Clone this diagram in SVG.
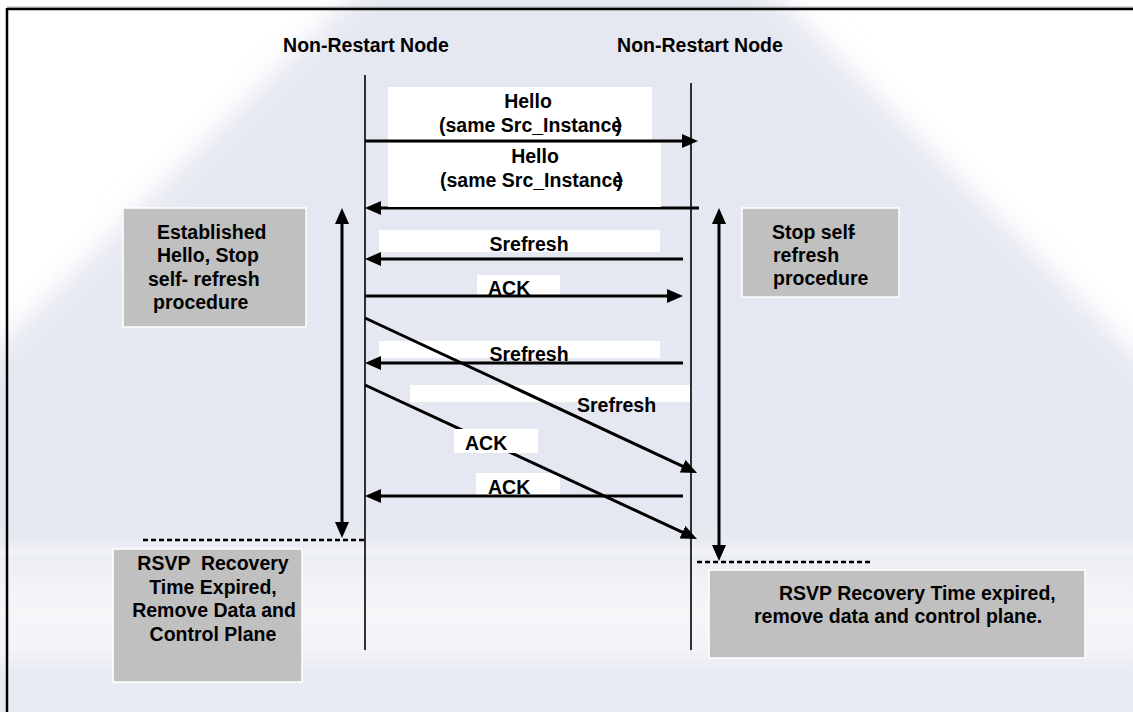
<svg xmlns="http://www.w3.org/2000/svg" width="1133" height="712" viewBox="0 0 1133 712">
<defs>
<style>
text{font-family:"Liberation Sans",Arial,sans-serif;font-weight:bold;font-size:19.5px;fill:#000}
.life{stroke:#000;stroke-width:1.6;fill:none}
.msg{stroke:#000;stroke-width:3;fill:none}
.dash{stroke:#000;stroke-width:2.5;stroke-dasharray:5 3;fill:none}
.lbl{fill:#fff}
.note{fill:#c0c0c0;stroke:#fff;stroke-width:1.5}
</style>
<marker id="ah" viewBox="0 0 16 14" refX="8" refY="7" markerWidth="16" markerHeight="14" markerUnits="userSpaceOnUse" orient="auto-start-reverse">
<path d="M0,0 L16,7 L0,14 z" fill="#000"/>
</marker>
<filter id="soft" x="-10%" y="-10%" width="120%" height="120%"><feGaussianBlur stdDeviation="14"/></filter>
<linearGradient id="low" x1="0" y1="0" x2="0" y2="1">
<stop offset="0" stop-color="#eceef5"/>
<stop offset="0.35" stop-color="#f6f6f9"/>
<stop offset="0.6" stop-color="#f3f4f8"/>
<stop offset="0.75" stop-color="#e9ebf3"/>
<stop offset="1" stop-color="#e8eaf2"/>
</linearGradient>
</defs>

<g id="background">
<rect x="0" y="0" width="1133" height="712" fill="#fff"/>
<polygon points="378,-30 752,-30 1180,400 1180,556 -40,556 -40,385" fill="#e6e8f1" filter="url(#soft)"/>
<rect x="0" y="555" width="1133" height="157" fill="url(#low)"/>
<line x1="7" y1="7.2" x2="1133" y2="7.2" stroke="#b8b8b8" stroke-width="1.2"/>
<line x1="7" y1="9" x2="1133" y2="9" stroke="#000" stroke-width="2.5"/>
<line x1="7" y1="8" x2="7" y2="712" stroke="#000" stroke-width="2.5"/>
</g>

<g id="node-left">
<text x="366" y="52" text-anchor="middle">Non-Restart Node</text>
<line class="life" x1="365" y1="75" x2="365" y2="650"/>
</g>
<g id="node-right">
<text x="700" y="52" text-anchor="middle">Non-Restart Node</text>
<line class="life" x1="691" y1="83" x2="691" y2="650"/>
</g>

<g id="labels-under">
<rect class="lbl" x="388" y="87" width="264" height="53"/>
<rect class="lbl" x="379" y="230" width="281" height="22"/>
<rect class="lbl" x="477" y="275" width="83" height="21"/>
<rect class="lbl" x="379" y="341" width="281" height="17"/>
<rect class="lbl" x="410" y="385" width="280" height="17"/>
<rect class="lbl" x="476" y="473" width="84" height="22"/>
</g>

<g id="connectors">
<line class="msg" x1="365" y1="141" x2="690" y2="141" marker-end="url(#ah)"/>
<line class="msg" x1="699" y1="208" x2="373" y2="208" marker-end="url(#ah)"/>
<line class="msg" x1="683" y1="259" x2="373" y2="259" marker-end="url(#ah)"/>
<line class="msg" x1="365" y1="296" x2="675" y2="296" marker-end="url(#ah)"/>
<line class="msg" x1="365" y1="318" x2="689.8" y2="469.6" marker-end="url(#ah)"/>
<line class="msg" x1="683" y1="363" x2="373" y2="363" marker-end="url(#ah)"/>
<line class="msg" x1="365" y1="385" x2="689.7" y2="535.6" marker-end="url(#ah)"/>
<line class="msg" x1="683" y1="496" x2="373" y2="496" marker-end="url(#ah)"/>
<line class="msg" x1="342" y1="216" x2="342" y2="530" marker-start="url(#ah)" marker-end="url(#ah)"/>
<line class="msg" x1="719" y1="216" x2="719" y2="553" marker-start="url(#ah)" marker-end="url(#ah)"/>
<line class="dash" x1="143" y1="540" x2="365" y2="540"/>
<line class="dash" x1="697" y1="562" x2="872" y2="562"/>
</g>

<g id="labels-over">
<rect class="lbl" x="388" y="143" width="273" height="64"/>
<rect class="lbl" x="454" y="429" width="84" height="24"/>
</g>

<g id="label-texts">
<text x="528" y="108" text-anchor="middle">Hello</text>
<text x="439" y="132">(same Src_Instanc<tspan>e</tspan><tspan dx="-7">)</tspan></text>
<text x="535" y="163" text-anchor="middle">Hello</text>
<text x="440" y="187">(same Src_Instanc<tspan>e</tspan><tspan dx="-7">)</tspan></text>
<text x="529" y="251" text-anchor="middle">Srefresh</text>
<text x="488" y="295">ACK</text>
<text x="529" y="361" text-anchor="middle">Srefresh</text>
<text x="577" y="412">Srefresh</text>
<text x="465" y="450">ACK</text>
<text x="488" y="494">ACK</text>
</g>

<g id="note-left-top">
<rect class="note" x="123" y="208" width="183" height="119"/>
<text x="157" y="239">Established</text>
<text x="157" y="262">Hello, Stop</text>
<text x="148" y="286">self- refresh</text>
<text x="153" y="309">procedure</text>
</g>

<g id="note-right-top">
<rect class="note" x="742" y="208" width="157" height="89"/>
<text x="772" y="239">Stop self<tspan dx="-5">-</tspan></text>
<text x="773" y="262">refresh</text>
<text x="773" y="285">procedure</text>
</g>

<g id="note-left-bottom">
<rect class="note" x="113" y="549" width="189" height="133"/>
<text x="213" y="570" text-anchor="middle" xml:space="preserve">RSVP  Recovery</text>
<text x="213" y="594" text-anchor="middle">Time Expired,</text>
<text x="214" y="617" text-anchor="middle">Remove Data and</text>
<text x="213" y="641" text-anchor="middle">Control Plane</text>
</g>

<g id="note-right-bottom">
<rect class="note" x="709" y="570" width="376" height="88"/>
<text x="779" y="600">RSVP Recovery Time expired,</text>
<text x="754" y="623">remove data and control plane.</text>
</g>
</svg>
